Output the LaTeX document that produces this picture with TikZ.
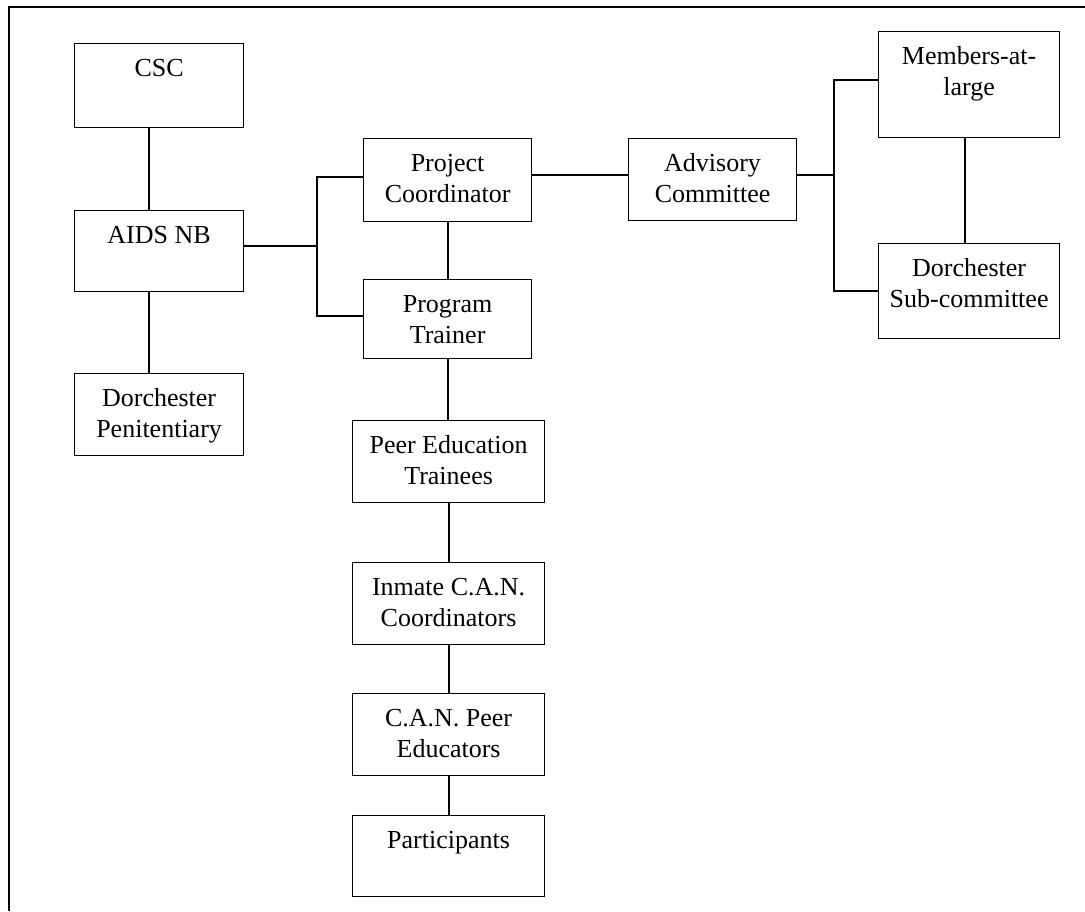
\documentclass[tikz,border=0pt]{standalone}
\usepackage{fontspec}
\setmainfont{Liberation Serif}
\newcommand{\bxt}[3]{\parbox[c][#2pt][t]{#1pt}{\centering\fontsize{26}{31}\selectfont\rule{0pt}{33pt}#3}}
\tikzset{
  orgbox/.style={draw, line width=1.2pt, inner sep=0pt, anchor=north west},
  conn/.style={line width=2pt},
  frame/.style={line width=1.5pt}
}
\begin{document}
\begin{tikzpicture}[x=1pt,y=-1pt]
\useasboundingbox (0,0) rectangle (1085,911);
\draw[frame] (9,911) -- (9,7) -- (1085,7);
% left column
\node[orgbox] (csc) at (74,43) {\bxt{169}{84}{CSC}};
\node[orgbox] (aids) at (74,210) {\bxt{169}{81}{AIDS NB}};
\node[orgbox] (dpen) at (74,373) {\bxt{169}{82}{Dorchester\\Penitentiary}};
% middle column
\node[orgbox] (pc) at (363,138) {\bxt{168}{83}{Project\\Coordinator}};
\node[orgbox] (pt) at (363,279) {\bxt{168}{79}{Program\\Trainer}};
\node[orgbox] (pet) at (352,420) {\bxt{192}{82}{Peer Education\\Trainees}};
\node[orgbox] (icc) at (352,562) {\bxt{192}{82}{Inmate C.A.N.\\Coordinators}};
\node[orgbox] (cpe) at (352,693) {\bxt{192}{82}{C.A.N. Peer\\Educators}};
\node[orgbox] (part) at (352,815) {\bxt{192}{81}{Participants}};
% right
\node[orgbox] (ac) at (628,138) {\bxt{168}{82}{Advisory\\Committee}};
\node[orgbox] (mal) at (878,31) {\bxt{181}{106}{Members-at-\\large}};
\node[orgbox] (dsc) at (878,243) {\bxt{181}{95}{Dorchester\\Sub-committee}};
% connectors
\draw[conn] ([xshift=-10pt]csc.south) -- ([xshift=-10pt]aids.north);
\draw[conn] ([xshift=-10pt]aids.south) -- ([xshift=-10pt]dpen.north);
\draw[conn] ([yshift=5pt]aids.east) -- ++(73,0) coordinate (j1);
\draw[conn] ([yshift=3.5pt]pc.west) -| (j1) |- ([yshift=3.5pt]pt.west);
\draw[conn] (pc.south) -- (pc.south |- pt.north);
\draw[conn] (pt.south) -- (pt.south |- pet.north);
\draw[conn] (pet.south) -- (icc.north);
\draw[conn] (icc.south) -- (cpe.north);
\draw[conn] (cpe.south) -- (part.north);
\draw[conn] ([yshift=5pt]pc.east) -- ([yshift=5pt]pc.east -| ac.west);
\draw[conn] ([yshift=5pt]ac.east) -- ++(37,0) coordinate (j2);
\draw[conn] ([yshift=5pt]mal.west) -| (j2) |- (dsc.west);
\draw[conn] ([xshift=-4.5pt]mal.south) -- ([xshift=-4.5pt]mal.south |- dsc.north);
\end{tikzpicture}
\end{document}
